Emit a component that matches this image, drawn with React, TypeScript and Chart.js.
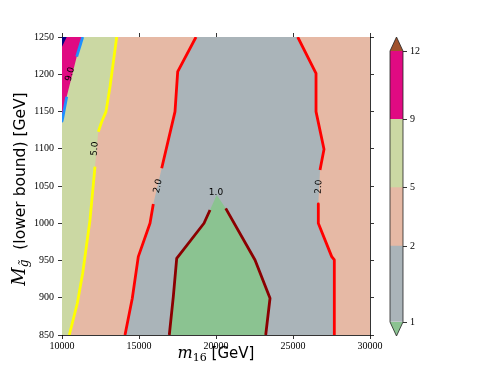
import React, { useEffect, useRef } from "react";
import { Chart, registerables } from "chart.js";

Chart.register(...registerables);

type Pt = [number, number];

// ---- axes ----
const xRange: Pt = [10000, 30000];
const yRange: Pt = [850, 1250];
const xTickStep = 5000;
const yTickStep = 50;

// ---- contour paths (data coordinates) ----
// level 1.0 (dark red), from bottom-left over the peak to bottom-right
const contour1: Pt[] = [
  [16968, 850], [17228, 901.5], [17449, 953], [19221, 1000], [19611, 1017.8],
  [20046, 1037.9], [20631, 1020], [22534, 950.7], [23508, 899.3], [23228, 850],
];
const contour1Gaps = [4, 5];

// level 2.0 (red), left branch top -> bottom
const contour2Left: Pt[] = [
  [18702, 1250], [17513, 1203.4], [17338, 1149.8], [16474, 1073.8], [15929, 1025.9],
  [15715, 1000], [14955, 955.2], [14565, 899.3], [14091, 850],
];
const contour2LeftGaps = [3];

// level 2.0 (red), right branch top -> bottom
const contour2Right: Pt[] = [
  [25306, 1250], [26495, 1201.3], [26495, 1149.8], [27014, 1099.3], [26754, 1071.5],
  [26644, 1025.9], [26644, 1000], [27514, 955.2], [27683, 950.7], [27683, 850],
];
const contour2RightGaps = [4];

// level 5.0 (yellow), top -> bottom
const contour5: Pt[] = [
  [13552, 1250], [13117, 1183.3], [12857, 1149.8], [12578, 1136.3], [12357, 1122.9],
  [12143, 1075.9], [11818, 1004.4], [11344, 932.9], [10994, 892.6], [10474, 850],
];
const contour5Gaps = [4];

// level 9.0 (blue), top -> left edge
const contour9: Pt[] = [
  [11344, 1250], [10955, 1223.6], [10305, 1169.9], [10045, 1141], [10000, 1137],
];
const contour9Gaps = [1];

// level 12 corner (navy)
const contour12: Pt[] = [[10305, 1250], [10000, 1237]];

// ---- contour labels ----
const labelTexts = ["9.0", "5.0", "2.0", "2.0", "1.0"];
const labelX = [10520, 12124, 16234, 26670, 20000];
const labelY = [1200, 1100, 1050, 1049, 1041];
const labelAngle = [75, 85, 77, 87, 0];

// ---- colours ----
const colBelow1 = "#8bc391";
const col1to2 = "#aab4b9";
const col2to5 = "#e6b9a5";
const col5to9 = "#cbd8a3";
const col9to12 = "#e00a82";
const colAbove12 = "#a0522d";
const lineCol1 = "#8b0000";
const lineCol2 = "#ff0000";
const lineCol5 = "#ffff00";
const lineCol9 = "#1e90ff";
const lineCol12 = "#000080";

// ---- colorbar ----
const cbarLabels = ["1", "2", "5", "9", "12"];
const cbarBandHeights = [1.0, 0.77, 0.9, 0.9];
const cbarBandColors = [col1to2, col2to5, col5to9, col9to12];

function splitAtGaps(pts: Pt[], gaps: number[]): Pt[][] {
  const out: Pt[][] = [];
  let cur: Pt[] = [pts[0]];
  for (let i = 0; i < pts.length - 1; i++) {
    if (gaps.includes(i)) {
      out.push(cur);
      cur = [pts[i + 1]];
    } else cur.push(pts[i + 1]);
  }
  out.push(cur);
  return out.filter((s) => s.length > 1);
}

const regions: { poly: Pt[]; color: string }[] = [
  { poly: [[xRange[0], yRange[0]], [xRange[1], yRange[0]], [xRange[1], yRange[1]], [xRange[0], yRange[1]]], color: col2to5 },
  { poly: [[xRange[0], yRange[1]], ...contour5, [xRange[0], yRange[0]]], color: col5to9 },
  { poly: [[xRange[0], yRange[1]], ...contour9], color: col9to12 },
  { poly: [[xRange[0], yRange[1]], ...contour12], color: lineCol12 },
  { poly: [...contour2Left, ...[...contour2Right].reverse()], color: col1to2 },
  { poly: contour1, color: colBelow1 },
];

const fillPlugin = {
  id: "contourFill",
  beforeDatasetsDraw(chart: any) {
    const { ctx, chartArea, scales } = chart;
    const sx = scales.x, sy = scales.y;
    ctx.save();
    ctx.beginPath();
    ctx.rect(chartArea.left, chartArea.top, chartArea.right - chartArea.left, chartArea.bottom - chartArea.top);
    ctx.clip();
    for (const r of regions) {
      ctx.beginPath();
      r.poly.forEach(([vx, vy], i) => {
        const px = sx.getPixelForValue(vx);
        const py = sy.getPixelForValue(vy);
        if (i === 0) ctx.moveTo(px, py);
        else ctx.lineTo(px, py);
      });
      ctx.closePath();
      ctx.fillStyle = r.color;
      ctx.fill();
    }
    ctx.restore();
  },
};

const labelPlugin = {
  id: "contourLabels",
  afterDatasetsDraw(chart: any) {
    const { ctx, scales } = chart;
    ctx.save();
    ctx.font = '9px "DejaVu Sans"';
    ctx.fillStyle = "#000";
    ctx.textAlign = "center";
    ctx.textBaseline = "middle";
    labelTexts.forEach((t, i) => {
      const px = scales.x.getPixelForValue(labelX[i]);
      const py = scales.y.getPixelForValue(labelY[i]);
      ctx.save();
      ctx.translate(px, py);
      ctx.rotate((-labelAngle[i] * Math.PI) / 180);
      ctx.fillText(t, 0, 0);
      ctx.restore();
    });
    ctx.restore();
  },
};

type Part = { t: string; font: string; dy: number };
function drawParts(ctx: CanvasRenderingContext2D, parts: Part[], cx: number, cy: number, rot: number) {
  let total = 0;
  const widths = parts.map((p) => {
    ctx.font = p.font;
    const w = ctx.measureText(p.t).width;
    total += w;
    return w;
  });
  ctx.save();
  ctx.translate(cx, cy);
  ctx.rotate(rot);
  ctx.fillStyle = "#000";
  ctx.textAlign = "left";
  ctx.textBaseline = "alphabetic";
  let x = -total / 2;
  parts.forEach((p, i) => {
    ctx.font = p.font;
    ctx.fillText(p.t, x, p.dy);
    x += widths[i];
  });
  ctx.restore();
}

const titlePlugin = {
  id: "axisTitles",
  afterDraw(chart: any) {
    const { ctx, chartArea } = chart;
    const cx = (chartArea.left + chartArea.right) / 2;
    const cy = (chartArea.top + chartArea.bottom) / 2;
    drawParts(
      ctx,
      [
        { t: "m", font: 'italic 16px "DejaVu Serif"', dy: 0 },
        { t: "16", font: '11px "DejaVu Serif"', dy: 3 },
        { t: " [GeV]", font: '15px "DejaVu Sans"', dy: 0 },
      ],
      cx,
      chartArea.bottom + 23,
      0
    );
    drawParts(
      ctx,
      [
        { t: "M", font: 'italic 18px "DejaVu Serif"', dy: 0 },
        { t: "g\u0303", font: 'italic 12px "DejaVu Serif"', dy: 3.5 },
        { t: "  (lower bound) [GeV]", font: '15.5px "DejaVu Sans"', dy: 0 },
      ],
      chartArea.left - 37.5,
      cy + 3,
      -Math.PI / 2
    );
  },
};

const cbarPlugin = {
  id: "cbarExtras",
  afterDatasetsDraw(chart: any) {
    const { ctx, chartArea } = chart;
    const { left, right, top, bottom } = chartArea;
    const mid = (left + right) / 2;
    const tri = 14;
    ctx.save();
    ctx.fillStyle = colAbove12;
    ctx.beginPath();
    ctx.moveTo(left, top);
    ctx.lineTo(mid, top - tri);
    ctx.lineTo(right, top);
    ctx.closePath();
    ctx.fill();
    ctx.fillStyle = colBelow1;
    ctx.beginPath();
    ctx.moveTo(left, bottom);
    ctx.lineTo(mid, bottom + tri);
    ctx.lineTo(right, bottom);
    ctx.closePath();
    ctx.fill();
    ctx.strokeStyle = "#222";
    ctx.lineWidth = 0.8;
    ctx.beginPath();
    ctx.moveTo(left, top);
    ctx.lineTo(mid, top - tri);
    ctx.lineTo(right, top);
    ctx.lineTo(right, bottom);
    ctx.lineTo(mid, bottom + tri);
    ctx.lineTo(left, bottom);
    ctx.closePath();
    ctx.stroke();
    ctx.restore();
  },
};

const tickFont = { family: '"Liberation Serif", serif', size: 10 };

export default function App() {
  const mainRef = useRef<HTMLCanvasElement>(null);
  const cbRef = useRef<HTMLCanvasElement>(null);

  useEffect(() => {
    const lineSets = [
      { pts: contour1, gaps: contour1Gaps, color: lineCol1 },
      { pts: contour2Left, gaps: contour2LeftGaps, color: lineCol2 },
      { pts: contour2Right, gaps: contour2RightGaps, color: lineCol2 },
      { pts: contour5, gaps: contour5Gaps, color: lineCol5 },
      { pts: contour9, gaps: contour9Gaps, color: lineCol9 },
    ];
    const datasets: any[] = [];
    for (const ls of lineSets) {
      for (const seg of splitAtGaps(ls.pts, ls.gaps)) {
        datasets.push({
          data: seg.map(([x, y]) => ({ x, y })),
          showLine: true,
          pointRadius: 0,
          borderColor: ls.color,
          borderWidth: 2.8,
          borderJoinStyle: "round",
          fill: false,
          tension: 0,
          clip: 0,
        });
      }
    }

    const grid = { drawOnChartArea: false, drawTicks: true, tickLength: 4, tickColor: "#000", tickWidth: 0.8 };
    const border = { display: true, color: "#000", width: 0.8 };

    const main = new Chart(mainRef.current!, {
      type: "scatter",
      data: { datasets },
      options: {
        responsive: false,
        animation: false,
        events: [],
        layout: { padding: { left: 0, right: 111, top: 27, bottom: 0 } },
        plugins: { legend: { display: false }, tooltip: { enabled: false } },
        scales: {
          x: {
            type: "linear",
            position: "bottom",
            min: xRange[0],
            max: xRange[1],
            grid,
            border,
            ticks: { stepSize: xTickStep, padding: 1, color: "#000", font: tickFont, maxRotation: 0, callback: (v: any) => String(v) },
            afterFit: (s: any) => { s.height = 38; },
          },
          x2: {
            type: "linear",
            position: "top",
            min: xRange[0],
            max: xRange[1],
            grid,
            border,
            ticks: { stepSize: xTickStep, callback: () => "" },
            afterFit: (s: any) => { s.height = 10; },
          },
          y: {
            type: "linear",
            position: "left",
            min: yRange[0],
            max: yRange[1],
            grid,
            border,
            ticks: { stepSize: yTickStep, padding: 4, color: "#000", font: tickFont, callback: (v: any) => String(v) },
            afterFit: (s: any) => { s.width = 62; },
          },
          y2: {
            type: "linear",
            position: "right",
            min: yRange[0],
            max: yRange[1],
            grid,
            border,
            ticks: { stepSize: yTickStep, callback: () => "" },
            afterFit: (s: any) => { s.width = 16; },
          },
        },
      } as any,
      plugins: [fillPlugin, labelPlugin, titlePlugin],
    });

    const cbPos: number[] = [0];
    cbarBandHeights.forEach((h, i) => cbPos.push(cbPos[i] + h));
    const cb = new Chart(cbRef.current!, {
      type: "bar",
      data: {
        labels: [""],
        datasets: cbarBandHeights.map((h, i) => ({
          data: [h],
          backgroundColor: cbarBandColors[i],
          borderWidth: 0,
          barPercentage: 1,
          categoryPercentage: 1,
        })),
      },
      options: {
        responsive: false,
        animation: false,
        events: [],
        layout: { padding: { left: 20, right: 64, top: 51, bottom: 51 } },
        plugins: { legend: { display: false }, tooltip: { enabled: false } },
        scales: {
          x: { display: false, stacked: true },
          y: {
            position: "right",
            stacked: true,
            min: 0,
            max: cbPos[cbPos.length - 1],
            grid: { drawOnChartArea: false, drawTicks: true, tickLength: 4, tickColor: "#000", tickWidth: 0.8 },
            border: { display: false },
            afterBuildTicks: (s: any) => { s.ticks = cbPos.map((v) => ({ value: v })); },
            ticks: { padding: 3, color: "#000", font: tickFont, callback: (_v: any, i: number) => cbarLabels[i] },
            afterFit: (s: any) => { s.width = 30; },
          },
        },
      } as any,
      plugins: [cbarPlugin],
    });

    return () => {
      main.destroy();
      cb.destroy();
    };
  }, []);

  return (
    <div style={{ position: "fixed", left: 0, top: 0, width: 497, height: 373, background: "#fff" }}>
      <canvas ref={mainRef} width={497} height={373} style={{ position: "absolute", left: 0, top: 0 }} />
      <canvas ref={cbRef} width={127} height={373} style={{ position: "absolute", left: 370, top: 0 }} />
    </div>
  );
}
